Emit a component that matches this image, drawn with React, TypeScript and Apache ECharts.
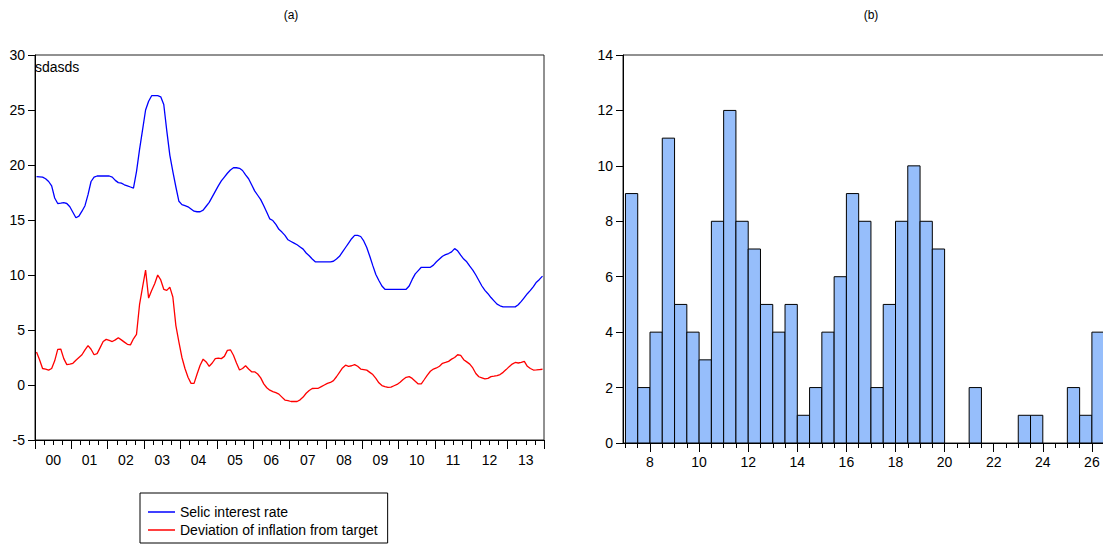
import React, { useEffect, useRef } from 'react';
import * as echarts from 'echarts';

// ---- Data ----
const yearLabels = ['00', '01', '02', '03', '04', '05', '06', '07', '08', '09', '10', '11', '12', '13'];

// Monthly, Jan 2000 – Dec 2013
const selicRate = [
  18.94, 18.92, 18.9, 18.75, 18.5, 18.1, 17.0, 16.5, 16.53, 16.57, 16.5, 16.2,
  15.7, 15.2, 15.35, 15.8, 16.3, 17.3, 18.5, 18.9, 19.0, 19.0, 19.0, 19.0,
  19.0, 18.9, 18.6, 18.4, 18.35, 18.2, 18.1, 18.0, 17.9, 19.4, 21.4, 23.2,
  25.0, 25.8, 26.3, 26.3, 26.3, 26.2, 25.5, 23.1, 20.9, 19.4, 18.0, 16.7,
  16.4, 16.3, 16.2, 16.0, 15.8, 15.75, 15.75, 15.9, 16.25, 16.6, 17.1, 17.6,
  18.1, 18.55, 18.9, 19.25, 19.55, 19.75, 19.75, 19.7, 19.5, 19.1, 18.75, 18.2,
  17.65, 17.25, 16.85, 16.3, 15.7, 15.1, 14.95, 14.6, 14.15, 13.9, 13.6, 13.2,
  13.05, 12.9, 12.75, 12.55, 12.35, 12.0, 11.75, 11.45, 11.2, 11.2, 11.2, 11.2,
  11.2, 11.2, 11.25, 11.45, 11.7, 12.1, 12.5, 12.9, 13.3, 13.6, 13.6, 13.5,
  13.1, 12.5, 11.7, 10.85, 10.05, 9.5, 9.0, 8.7, 8.7, 8.7, 8.7, 8.7,
  8.7, 8.7, 8.7, 9.0, 9.6, 10.1, 10.4, 10.7, 10.7, 10.7, 10.7, 10.9,
  11.2, 11.45, 11.7, 11.85, 11.95, 12.1, 12.4, 12.2, 11.8, 11.45, 11.2, 10.8,
  10.45, 10.0, 9.5, 9.0, 8.6, 8.3, 7.95, 7.65, 7.35, 7.2, 7.1, 7.1,
  7.1, 7.1, 7.1, 7.3, 7.6, 7.95, 8.3, 8.6, 8.95, 9.35, 9.6, 9.9,
];

const inflationDeviation = [
  3.0, 2.3, 1.5, 1.45, 1.35, 1.5, 2.2, 3.24, 3.27, 2.4, 1.85, 1.9,
  1.97, 2.25, 2.5, 2.75, 3.2, 3.58, 3.25, 2.75, 2.85, 3.4, 3.95, 4.15,
  4.05, 3.95, 4.1, 4.3, 4.1, 3.9, 3.7, 3.65, 4.2, 4.6, 7.3, 8.9,
  10.45, 7.9, 8.6, 9.2, 10.0, 9.55, 8.7, 8.6, 8.9, 8.0, 5.4, 3.9,
  2.5, 1.5, 0.7, 0.15, 0.15, 1.0, 1.8, 2.35, 2.1, 1.7, 2.0, 2.4,
  2.45, 2.4, 2.6, 3.15, 3.2, 2.7, 2.0, 1.36, 1.5, 1.75, 1.45, 1.2,
  1.2, 1.0, 0.65, 0.1, -0.25, -0.47, -0.6, -0.7, -0.83, -1.1, -1.37, -1.42,
  -1.5, -1.5, -1.5, -1.35, -1.1, -0.75, -0.5, -0.32, -0.3, -0.3, -0.15, 0.0,
  0.15, 0.23, 0.4, 0.75, 1.15, 1.55, 1.8, 1.7, 1.75, 1.85, 1.7, 1.45,
  1.4, 1.35, 1.15, 0.95, 0.6, 0.2, -0.05, -0.15, -0.22, -0.2, -0.07, 0.05,
  0.25, 0.5, 0.7, 0.76, 0.6, 0.35, 0.1, 0.1, 0.5, 0.9, 1.25, 1.45,
  1.55, 1.7, 1.97, 2.05, 2.15, 2.35, 2.5, 2.75, 2.7, 2.3, 2.1, 1.9,
  1.55, 1.05, 0.75, 0.65, 0.55, 0.6, 0.76, 0.8, 0.85, 0.95, 1.15, 1.4,
  1.67, 1.9, 2.05, 2.0, 2.05, 2.15, 1.7, 1.5, 1.36, 1.37, 1.4, 1.43,
];

// Histogram (bin start, bin width 0.5)
const histBinStart = [
  7, 7.5, 8, 8.5, 9, 9.5, 10, 10.5, 11, 11.5, 12, 12.5, 13, 13.5, 14, 14.5,
  15, 15.5, 16, 16.5, 17, 17.5, 18, 18.5, 19, 19.5, 20, 20.5, 21, 21.5, 22, 22.5,
  23, 23.5, 24, 24.5, 25, 25.5, 26,
];
const histCounts = [
  9, 2, 4, 11, 5, 4, 3, 8, 12, 8, 7, 5, 4, 5, 1, 2,
  4, 6, 9, 8, 2, 5, 8, 10, 8, 7, 0, 0, 2, 0, 0, 0,
  1, 1, 0, 0, 2, 1, 4,
];
const histTickLabels = [8, 10, 12, 14, 16, 18, 20, 22, 24, 26];
const BIN_WIDTH = 0.5;

const FONT = '"Liberation Sans", Arial, Helvetica, sans-serif';

export default function App() {
  const ref = useRef<HTMLDivElement>(null);

  useEffect(() => {
    if (!ref.current) return;
    const chart = echarts.init(ref.current, null, { renderer: 'svg' });

    const toXY = (arr: number[]) => arr.map((v, i) => [i + 0.5, v]);
    const yearCenters = yearLabels.map((_, k) => k * 12 + 6);
    const halfTicks: number[] = [];
    for (let k = 0; k <= 41; k++) halfTicks.push(7 + k * 0.5);

    const labelStyle = { color: '#000', fontSize: 14, fontFamily: FONT };
    const axisLineStyle = { color: '#000', width: 1 };

    chart.setOption({
      animation: false,
      backgroundColor: '#fff',
      grid: [
        { left: 35, top: 55, width: 509, height: 385, show: true, borderColor: '#222', borderWidth: 1, backgroundColor: 'transparent', outerBoundsMode: 'none', containLabel: false },
        { left: 623, top: 55, width: 518, height: 388, show: true, borderColor: '#222', borderWidth: 1, backgroundColor: 'transparent', outerBoundsMode: 'none', containLabel: false },
      ],
      xAxis: [
        {
          gridIndex: 0, type: 'value', min: 0, max: 168, interval: 12, position: 'bottom',
          axisLine: { onZero: false, lineStyle: axisLineStyle },
          axisTick: { show: true, length: 9, lineStyle: axisLineStyle },
          minorTick: { show: true, splitNumber: 4, length: 5, lineStyle: axisLineStyle },
          axisLabel: {
            ...labelStyle, margin: 13, customValues: yearCenters,
            formatter: (v: number) => yearLabels[Math.round((v - 6) / 12)] ?? '',
          },
          splitLine: { show: false }, minorSplitLine: { show: false },
        },
        {
          gridIndex: 1, type: 'value', min: 6.9, max: 28, position: 'bottom',
          axisLine: { onZero: false, lineStyle: axisLineStyle },
          axisTick: { show: true, length: 5, customValues: halfTicks, lineStyle: axisLineStyle },
          axisLabel: { show: false },
          splitLine: { show: false },
        },
        {
          gridIndex: 1, type: 'value', min: 6.9, max: 28, position: 'bottom',
          axisLine: { show: false, onZero: false },
          axisTick: { show: true, length: 9, customValues: histTickLabels, lineStyle: axisLineStyle },
          axisLabel: { ...labelStyle, margin: 12, customValues: histTickLabels },
          splitLine: { show: false },
        },
      ],
      yAxis: [
        {
          gridIndex: 0, type: 'value', min: -5, max: 30, interval: 5,
          axisLine: { show: true, onZero: false, lineStyle: axisLineStyle },
          axisTick: { show: true, length: 7, lineStyle: axisLineStyle },
          axisLabel: { ...labelStyle, margin: 10 },
          splitLine: { show: false },
        },
        {
          gridIndex: 1, type: 'value', min: 0, max: 14, interval: 2,
          axisLine: { show: true, onZero: false, lineStyle: axisLineStyle },
          axisTick: { show: true, length: 7, lineStyle: axisLineStyle },
          axisLabel: { ...labelStyle, margin: 10 },
          splitLine: { show: false },
        },
      ],
      legend: {
        left: 140, top: 493, orient: 'vertical',
        itemWidth: 27, itemHeight: 1.5, itemGap: 2,
        icon: 'rect',
        padding: [11, 10, 5, 8],
        borderColor: '#000', borderWidth: 1,
        textStyle: { fontSize: 14, fontFamily: FONT, color: '#000', lineHeight: 16 },
        data: ['Selic interest rate', 'Deviation of inflation from target'],
      },
      graphic: [
        { type: 'text', x: 291, y: 15, style: { text: '(a)', fontSize: 12, fontFamily: FONT, fill: '#000', align: 'center', verticalAlign: 'middle' } },
        { type: 'text', x: 871, y: 15, style: { text: '(b)', fontSize: 12, fontFamily: FONT, fill: '#000', align: 'center', verticalAlign: 'middle' } },
        { type: 'text', x: 35, y: 67, style: { text: 'sdasds', fontSize: 14, fontFamily: FONT, fill: '#000', align: 'left', verticalAlign: 'middle' } },
      ],
      series: [
        {
          name: 'Selic interest rate', type: 'line', xAxisIndex: 0, yAxisIndex: 0,
          data: toXY(selicRate), symbol: 'none', smooth: false,
          lineStyle: { color: '#0000ff', width: 1.3 }, itemStyle: { color: '#0000ff' },
        },
        {
          name: 'Deviation of inflation from target', type: 'line', xAxisIndex: 0, yAxisIndex: 0,
          data: toXY(inflationDeviation), symbol: 'none', smooth: false,
          lineStyle: { color: '#ff0000', width: 1.3 }, itemStyle: { color: '#ff0000' },
        },
        {
          type: 'custom', xAxisIndex: 1, yAxisIndex: 1,
          data: histBinStart.map((x, i) => [x, histCounts[i]]),
          encode: { x: 0, y: 1 },
          renderItem: (params: any, api: any) => {
            const x0 = api.value(0);
            const c = api.value(1);
            if (!c) return null;
            const p0 = api.coord([x0, c]);
            const p1 = api.coord([x0 + BIN_WIDTH, 0]);
            return {
              type: 'rect',
              shape: { x: p0[0], y: p0[1], width: p1[0] - p0[0], height: p1[1] - p0[1] },
              style: { fill: '#96BEFB', stroke: '#000', lineWidth: 1 },
            };
          },
        },
      ],
    });

    return () => chart.dispose();
  }, []);

  return <div ref={ref} style={{ position: 'absolute', left: 0, top: 0, width: 1103, height: 545 }} />;
}
